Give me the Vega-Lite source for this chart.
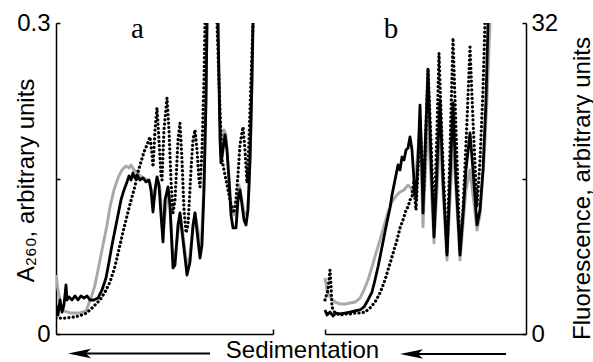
{
"$schema":"https://vega.github.io/schema/vega-lite/v6.json",
"autosize":"none",
"width":470,"height":311,
"padding":{"left":56,"top":23,"right":67,"bottom":28},
"config":{"view":{"stroke":null},"font":"Liberation Sans"},
"datasets":{
"a":[
{"s":"g","x":0,"y":0.0569},{"s":"g","x":2,"y":0.0425},{"s":"g","x":5,"y":0.028},{"s":"g","x":8,"y":0.0222},{"s":"g","x":14,"y":0.0203},{"s":"g","x":24,"y":0.0203},{"s":"g","x":30,"y":0.0222},{"s":"g","x":33,"y":0.0299},{"s":"g","x":36,"y":0.0376},{"s":"g","x":39,"y":0.0473},{"s":"g","x":43,"y":0.0666},{"s":"g","x":47,"y":0.0859},{"s":"g","x":51,"y":0.1052},{"s":"g","x":54,"y":0.1226},{"s":"g","x":58,"y":0.139},{"s":"g","x":62,"y":0.1505},{"s":"g","x":66,"y":0.1583},{"s":"g","x":70,"y":0.1621},{"s":"g","x":73,"y":0.1602},{"s":"g","x":75,"y":0.1631},{"s":"g","x":78,"y":0.1583},{"s":"g","x":81,"y":0.1563},{"s":"g","x":84,"y":0.1525},{"s":"g","x":88,"y":0.1505},{"s":"g","x":91,"y":0.1486},{"s":"g","x":94,"y":0.1457},{"s":"g","x":96,"y":0.1341},{"s":"g","x":97,"y":0.1245},{"s":"g","x":99,"y":0.1341},{"s":"g","x":101,"y":0.1486},{"s":"g","x":104,"y":0.139},{"s":"g","x":107,"y":0.0936},{"s":"g","x":109,"y":0.1148},{"s":"g","x":112,"y":0.139},{"s":"g","x":114,"y":0.1197},{"s":"g","x":117,"y":0.0714},{"s":"g","x":120,"y":0.0811},{"s":"g","x":124,"y":0.1148},{"s":"g","x":127,"y":0.0955},{"s":"g","x":131,"y":0.0637},{"s":"g","x":134,"y":0.0762},{"s":"g","x":139,"y":0.1168},{"s":"g","x":142,"y":0.1004},{"s":"g","x":144,"y":0.0811},{"s":"g","x":146,"y":0.1004},{"s":"g","x":148,"y":0.1486},{"s":"g","x":150,"y":0.2258},{"s":"g","x":151,"y":0.3},{"s":"g","x":156,"y":0.37},{"s":"g","x":162,"y":0.3},{"s":"g","x":164,"y":0.2065},{"s":"g","x":166,"y":0.1727},{"s":"g","x":168,"y":0.1969},{"s":"g","x":170,"y":0.192},{"s":"g","x":172,"y":0.1631},{"s":"g","x":175,"y":0.1245},{"s":"g","x":178,"y":0.1148},{"s":"g","x":181,"y":0.1177},{"s":"g","x":183,"y":0.1438},{"s":"g","x":185,"y":0.1341},{"s":"g","x":188,"y":0.1177},{"s":"g","x":191,"y":0.1148},{"s":"g","x":193,"y":0.139},{"s":"g","x":195,"y":0.1969},{"s":"g","x":197,"y":0.3},{"s":"g","x":199,"y":0.37},
{"s":"k","x":0,"y":0.028},{"s":"k","x":2,"y":0.0183},{"s":"k","x":4,"y":0.0328},{"s":"k","x":6,"y":0.0212},{"s":"k","x":8,"y":0.028},{"s":"k","x":10,"y":0.0473},{"s":"k","x":11,"y":0.0328},{"s":"k","x":13,"y":0.0357},{"s":"k","x":16,"y":0.0328},{"s":"k","x":19,"y":0.0367},{"s":"k","x":22,"y":0.0328},{"s":"k","x":25,"y":0.0367},{"s":"k","x":28,"y":0.0347},{"s":"k","x":31,"y":0.0367},{"s":"k","x":34,"y":0.0328},{"s":"k","x":38,"y":0.0328},{"s":"k","x":42,"y":0.0347},{"s":"k","x":46,"y":0.0425},{"s":"k","x":50,"y":0.054},{"s":"k","x":53,"y":0.0695},{"s":"k","x":56,"y":0.0859},{"s":"k","x":59,"y":0.1004},{"s":"k","x":62,"y":0.1148},{"s":"k","x":65,"y":0.1293},{"s":"k","x":68,"y":0.139},{"s":"k","x":71,"y":0.1467},{"s":"k","x":73,"y":0.1525},{"s":"k","x":75,"y":0.1486},{"s":"k","x":77,"y":0.1554},{"s":"k","x":79,"y":0.1505},{"s":"k","x":81,"y":0.1534},{"s":"k","x":84,"y":0.1486},{"s":"k","x":87,"y":0.1505},{"s":"k","x":90,"y":0.1467},{"s":"k","x":93,"y":0.1486},{"s":"k","x":95,"y":0.139},{"s":"k","x":97,"y":0.1177},{"s":"k","x":99,"y":0.139},{"s":"k","x":101,"y":0.1515},{"s":"k","x":103,"y":0.1438},{"s":"k","x":105,"y":0.1148},{"s":"k","x":107,"y":0.0888},{"s":"k","x":109,"y":0.1293},{"s":"k","x":112,"y":0.1419},{"s":"k","x":114,"y":0.1245},{"s":"k","x":117,"y":0.0637},{"s":"k","x":119,"y":0.0666},{"s":"k","x":122,"y":0.1052},{"s":"k","x":124,"y":0.1168},{"s":"k","x":127,"y":0.0907},{"s":"k","x":131,"y":0.0569},{"s":"k","x":134,"y":0.0695},{"s":"k","x":137,"y":0.1052},{"s":"k","x":139,"y":0.1168},{"s":"k","x":142,"y":0.0907},{"s":"k","x":144,"y":0.0733},{"s":"k","x":146,"y":0.0859},{"s":"k","x":148,"y":0.139},{"s":"k","x":150,"y":0.2258},{"s":"k","x":151,"y":0.3},{"s":"k","x":156,"y":0.37},{"s":"k","x":162,"y":0.3},{"s":"k","x":164,"y":0.1872},{"s":"k","x":165,"y":0.165},{"s":"k","x":167,"y":0.1776},{"s":"k","x":169,"y":0.192},{"s":"k","x":171,"y":0.1776},{"s":"k","x":173,"y":0.1486},{"s":"k","x":175,"y":0.1148},{"s":"k","x":177,"y":0.1023},{"s":"k","x":180,"y":0.1023},{"s":"k","x":182,"y":0.1293},{"s":"k","x":184,"y":0.139},{"s":"k","x":186,"y":0.1245},{"s":"k","x":188,"y":0.11},{"s":"k","x":190,"y":0.1052},{"s":"k","x":192,"y":0.1197},{"s":"k","x":194,"y":0.1679},{"s":"k","x":196,"y":0.2451},{"s":"k","x":197,"y":0.3},{"s":"k","x":199,"y":0.37},
{"s":"d","x":0,"y":0.0154},{"s":"d","x":9,"y":0.0154},{"s":"d","x":19,"y":0.0164},{"s":"d","x":29,"y":0.0193},{"s":"d","x":34,"y":0.0232},{"s":"d","x":39,"y":0.028},{"s":"d","x":44,"y":0.0328},{"s":"d","x":49,"y":0.0405},{"s":"d","x":54,"y":0.0502},{"s":"d","x":58,"y":0.0618},{"s":"d","x":61,"y":0.0733},{"s":"d","x":64,"y":0.0859},{"s":"d","x":67,"y":0.0984},{"s":"d","x":70,"y":0.11},{"s":"d","x":73,"y":0.1216},{"s":"d","x":76,"y":0.1322},{"s":"d","x":79,"y":0.1428},{"s":"d","x":82,"y":0.1563},{"s":"d","x":85,"y":0.166},{"s":"d","x":88,"y":0.1756},{"s":"d","x":91,"y":0.1824},{"s":"d","x":94,"y":0.1901},{"s":"d","x":96,"y":0.1727},{"s":"d","x":97,"y":0.1612},{"s":"d","x":99,"y":0.1969},{"s":"d","x":101,"y":0.2181},{"s":"d","x":103,"y":0.1872},{"s":"d","x":105,"y":0.1534},{"s":"d","x":106,"y":0.1486},{"s":"d","x":108,"y":0.1969},{"s":"d","x":111,"y":0.2277},{"s":"d","x":113,"y":0.1969},{"s":"d","x":115,"y":0.1486},{"s":"d","x":117,"y":0.1168},{"s":"d","x":119,"y":0.1293},{"s":"d","x":122,"y":0.1872},{"s":"d","x":124,"y":0.2036},{"s":"d","x":126,"y":0.1679},{"s":"d","x":128,"y":0.1197},{"s":"d","x":130,"y":0.0975},{"s":"d","x":132,"y":0.1052},{"s":"d","x":135,"y":0.1583},{"s":"d","x":137,"y":0.1872},{"s":"d","x":139,"y":0.1969},{"s":"d","x":141,"y":0.1776},{"s":"d","x":143,"y":0.1486},{"s":"d","x":144,"y":0.1419},{"s":"d","x":146,"y":0.1776},{"s":"d","x":148,"y":0.2451},{"s":"d","x":149,"y":0.3},{"s":"d","x":155,"y":0.37},{"s":"d","x":161,"y":0.3},{"s":"d","x":164,"y":0.2162},{"s":"d","x":166,"y":0.1679},{"s":"d","x":169,"y":0.1534},{"s":"d","x":172,"y":0.139},{"s":"d","x":175,"y":0.1245},{"s":"d","x":178,"y":0.1168},{"s":"d","x":180,"y":0.1293},{"s":"d","x":182,"y":0.1534},{"s":"d","x":184,"y":0.1824},{"s":"d","x":187,"y":0.1998},{"s":"d","x":189,"y":0.1776},{"s":"d","x":191,"y":0.1457},{"s":"d","x":193,"y":0.1872},{"s":"d","x":195,"y":0.2451},{"s":"d","x":197,"y":0.3},{"s":"d","x":199,"y":0.37}
],
"b":[
{"s":"g","x":0,"y":5.76},{"s":"g","x":2,"y":4.53},{"s":"g","x":5,"y":3.81},{"s":"g","x":10,"y":3.29},{"s":"g","x":15,"y":3.09},{"s":"g","x":20,"y":3.09},{"s":"g","x":25,"y":3.19},{"s":"g","x":30,"y":3.29},{"s":"g","x":35,"y":3.7},{"s":"g","x":39,"y":4.53},{"s":"g","x":43,"y":5.56},{"s":"g","x":47,"y":6.89},{"s":"g","x":51,"y":8.33},{"s":"g","x":55,"y":9.67},{"s":"g","x":59,"y":11.11},{"s":"g","x":63,"y":12.55},{"s":"g","x":67,"y":13.58},{"s":"g","x":71,"y":14.2},{"s":"g","x":75,"y":14.61},{"s":"g","x":79,"y":14.82},{"s":"g","x":83,"y":15.33},{"s":"g","x":86,"y":15.02},{"s":"g","x":88,"y":14.3},{"s":"g","x":91,"y":16.36},{"s":"g","x":93,"y":18.93},{"s":"g","x":95,"y":20.48},{"s":"g","x":97,"y":14.82},{"s":"g","x":98,"y":11.01},{"s":"g","x":100,"y":15.85},{"s":"g","x":103,"y":22.02},{"s":"g","x":106,"y":15.85},{"s":"g","x":109,"y":9.36},{"s":"g","x":112,"y":14.82},{"s":"g","x":115,"y":20.99},{"s":"g","x":118,"y":14.82},{"s":"g","x":122,"y":7.61},{"s":"g","x":125,"y":13.79},{"s":"g","x":128,"y":19.96},{"s":"g","x":131,"y":14.82},{"s":"g","x":135,"y":7.61},{"s":"g","x":138,"y":11.22},{"s":"g","x":141,"y":14.82},{"s":"g","x":145,"y":16.88},{"s":"g","x":148,"y":14.3},{"s":"g","x":152,"y":10.7},{"s":"g","x":155,"y":12.25},{"s":"g","x":159,"y":17.9},{"s":"g","x":162,"y":24.08},{"s":"g","x":165,"y":32},{"s":"g","x":167,"y":40},
{"s":"k","x":0,"y":2.47},{"s":"k","x":2,"y":1.96},{"s":"k","x":5,"y":2.26},{"s":"k","x":8,"y":1.85},{"s":"k","x":11,"y":2.16},{"s":"k","x":15,"y":2.06},{"s":"k","x":20,"y":2.16},{"s":"k","x":25,"y":2.26},{"s":"k","x":30,"y":2.37},{"s":"k","x":35,"y":2.47},{"s":"k","x":39,"y":2.78},{"s":"k","x":43,"y":3.5},{"s":"k","x":47,"y":4.32},{"s":"k","x":50,"y":5.56},{"s":"k","x":53,"y":6.89},{"s":"k","x":56,"y":8.44},{"s":"k","x":59,"y":9.98},{"s":"k","x":62,"y":11.52},{"s":"k","x":65,"y":12.97},{"s":"k","x":67,"y":14.3},{"s":"k","x":69,"y":15.33},{"s":"k","x":71,"y":16.36},{"s":"k","x":73,"y":17.39},{"s":"k","x":75,"y":16.88},{"s":"k","x":77,"y":18.21},{"s":"k","x":79,"y":17.9},{"s":"k","x":81,"y":18.93},{"s":"k","x":83,"y":19.14},{"s":"k","x":85,"y":20.27},{"s":"k","x":87,"y":18.93},{"s":"k","x":89,"y":15.85},{"s":"k","x":91,"y":13.79},{"s":"k","x":93,"y":17.9},{"s":"k","x":95,"y":23.56},{"s":"k","x":97,"y":16.88},{"s":"k","x":98,"y":12.45},{"s":"k","x":100,"y":18.93},{"s":"k","x":103,"y":27.17},{"s":"k","x":106,"y":17.9},{"s":"k","x":109,"y":9.98},{"s":"k","x":112,"y":16.88},{"s":"k","x":115,"y":24.08},{"s":"k","x":118,"y":15.85},{"s":"k","x":122,"y":8.13},{"s":"k","x":125,"y":15.85},{"s":"k","x":128,"y":23.77},{"s":"k","x":131,"y":15.85},{"s":"k","x":135,"y":8.13},{"s":"k","x":138,"y":12.25},{"s":"k","x":141,"y":16.88},{"s":"k","x":145,"y":20.68},{"s":"k","x":148,"y":16.88},{"s":"k","x":152,"y":11.22},{"s":"k","x":155,"y":12.76},{"s":"k","x":158,"y":16.88},{"s":"k","x":161,"y":24.08},{"s":"k","x":163,"y":32},{"s":"k","x":165,"y":40},
{"s":"d","x":0,"y":3.5},{"s":"d","x":3,"y":4.53},{"s":"d","x":5,"y":6.59},{"s":"d","x":6,"y":5.04},{"s":"d","x":7,"y":2.78},{"s":"d","x":10,"y":2.16},{"s":"d","x":15,"y":1.96},{"s":"d","x":20,"y":2.06},{"s":"d","x":25,"y":2.06},{"s":"d","x":30,"y":2.16},{"s":"d","x":35,"y":2.16},{"s":"d","x":40,"y":2.26},{"s":"d","x":45,"y":2.68},{"s":"d","x":50,"y":3.29},{"s":"d","x":54,"y":4.01},{"s":"d","x":57,"y":4.73},{"s":"d","x":60,"y":5.56},{"s":"d","x":63,"y":6.59},{"s":"d","x":66,"y":7.61},{"s":"d","x":69,"y":8.64},{"s":"d","x":72,"y":9.67},{"s":"d","x":75,"y":10.91},{"s":"d","x":78,"y":11.73},{"s":"d","x":81,"y":12.76},{"s":"d","x":83,"y":13.07},{"s":"d","x":85,"y":13.79},{"s":"d","x":87,"y":14.1},{"s":"d","x":89,"y":15.85},{"s":"d","x":90,"y":13.79},{"s":"d","x":91,"y":12.76},{"s":"d","x":93,"y":16.88},{"s":"d","x":95,"y":22.02},{"s":"d","x":97,"y":17.9},{"s":"d","x":99,"y":14.82},{"s":"d","x":101,"y":20.99},{"s":"d","x":103,"y":27.37},{"s":"d","x":106,"y":19.96},{"s":"d","x":109,"y":11.01},{"s":"d","x":112,"y":20.99},{"s":"d","x":114,"y":28.91},{"s":"d","x":117,"y":19.96},{"s":"d","x":122,"y":8.33},{"s":"d","x":125,"y":18.93},{"s":"d","x":128,"y":30.46},{"s":"d","x":131,"y":20.99},{"s":"d","x":135,"y":8.64},{"s":"d","x":138,"y":12.76},{"s":"d","x":142,"y":22.02},{"s":"d","x":145,"y":29.53},{"s":"d","x":148,"y":22.02},{"s":"d","x":152,"y":13.07},{"s":"d","x":155,"y":17.9},{"s":"d","x":158,"y":25.11},{"s":"d","x":160,"y":32},{"s":"d","x":162,"y":40}
],
"annA":[
{"k":"label","x":81.5,"y":0.2856,"t":"a"},
{"k":"sed","x":246.5,"y":-0.0236,"t":"Sedimentation"},
{"k":"head","x":23.5,"y":-0.0188},
{"k":"shaft","x":22,"x2":154,"y":-0.0188}
],
"annB":[
{"k":"label","x":66,"y":30.46,"t":"b"},
{"k":"head","x":86.5,"y":-2.06},
{"k":"shaft","x":85,"x2":181,"y":-2.06}
]
},
"layer":[
{
"encoding":{
"x":{"field":"x","type":"quantitative","scale":{"domain":[0,217],"range":[0,217],"nice":false,"zero":false},
"axis":{"orient":"bottom","values":[217],"labels":false,"tickSize":-5,"title":null,"grid":false,"domainColor":"#000","tickColor":"#000","domainWidth":1.5,"tickWidth":1.5}},
"y":{"field":"y","type":"quantitative","scale":{"domain":[0,0.3],"nice":false,"zero":false},
"axis":{"orient":"left","values":[0,0.15,0.3],"format":".1~f","labelExpr":"datum.value==0.15?'':datum.label","tickSize":-4,"labelPadding":10,"labelFontSize":24,"labelFont":"Liberation Sans","labelColor":"#000","grid":false,"domainColor":"#000","tickColor":"#000","domainWidth":1.5,"tickWidth":1.5,
"title":"A₂₆₀, arbitrary units","titleFont":"Liberation Sans","titleFontSize":24,"titleFontWeight":"normal","titleColor":"#000","titleAngle":-90,"titleX":-23,"titleY":157,"titleBaseline":"alphabetic","titleAlign":"center"}}
},
"layer":[
{"data":{"name":"a"},"transform":[{"filter":"datum.s==='g'"}],"mark":{"type":"line","clip":true,"color":"#a8a8a8","strokeWidth":2.9,"strokeJoin":"round"}},
{"data":{"name":"a"},"transform":[{"filter":"datum.s==='k'"}],"mark":{"type":"line","clip":true,"color":"#000","strokeWidth":2.8,"strokeJoin":"round"}},
{"data":{"name":"a"},"transform":[{"filter":"datum.s==='d'"}],"mark":{"type":"line","clip":true,"color":"#000","strokeWidth":3.2,"strokeDash":[0.1,4.2],"strokeCap":"round","strokeJoin":"round"}},
{"data":{"name":"annA"},"transform":[{"filter":"datum.k==='label'"}],"mark":{"type":"text","font":"Liberation Serif","fontSize":29,"align":"center","baseline":"alphabetic","color":"#000"},"encoding":{"text":{"field":"t"}}},
{"data":{"name":"annA"},"transform":[{"filter":"datum.k==='sed'"}],"mark":{"type":"text","font":"Liberation Sans","fontSize":24,"align":"center","baseline":"alphabetic","color":"#000"},"encoding":{"text":{"field":"t"}}},
{"data":{"name":"annA"},"transform":[{"filter":"datum.k==='shaft'"}],"mark":{"type":"rule","color":"#000","strokeWidth":1.8},"encoding":{"x2":{"field":"x2"}}},
{"data":{"name":"annA"},"transform":[{"filter":"datum.k==='head'"}],"mark":{"type":"point","filled":true,"color":"#000","opacity":1,"size":529,"shape":"M-1,0L1,-0.42L0.55,0L1,0.42Z"}}
]
},
{
"encoding":{
"x":{"field":"x","type":"quantitative","scale":{"domain":[0,201],"range":[269,470],"nice":false,"zero":false},
"axis":{"orient":"bottom","values":[0],"labels":false,"tickSize":-5,"title":null,"grid":false,"domainColor":"#000","tickColor":"#000","domainWidth":1.5,"tickWidth":1.5}},
"y":{"field":"y","type":"quantitative","scale":{"domain":[0,32],"nice":false,"zero":false},
"axis":{"orient":"right","values":[0,16,32],"format":"d","labelExpr":"datum.value==16?'':datum.label","tickSize":-4,"labelPadding":9,"labelFontSize":24,"labelFont":"Liberation Sans","labelColor":"#000","grid":false,"domainColor":"#000","tickColor":"#000","domainWidth":1.5,"tickWidth":1.5,
"title":"Fluorescence, arbitrary units","titleFont":"Liberation Sans","titleFontSize":24,"titleFontWeight":"normal","titleColor":"#000","titleAngle":-90,"titleX":63,"titleY":165,"titleBaseline":"alphabetic","titleAlign":"center"}}
},
"layer":[
{"data":{"name":"b"},"transform":[{"filter":"datum.s==='g'"}],"mark":{"type":"line","clip":true,"color":"#a8a8a8","strokeWidth":2.9,"strokeJoin":"round"}},
{"data":{"name":"b"},"transform":[{"filter":"datum.s==='k'"}],"mark":{"type":"line","clip":true,"color":"#000","strokeWidth":2.8,"strokeJoin":"round"}},
{"data":{"name":"b"},"transform":[{"filter":"datum.s==='d'"}],"mark":{"type":"line","clip":true,"color":"#000","strokeWidth":3.2,"strokeDash":[0.1,4.2],"strokeCap":"round","strokeJoin":"round"}},
{"data":{"name":"annB"},"transform":[{"filter":"datum.k==='label'"}],"mark":{"type":"text","font":"Liberation Serif","fontSize":29,"align":"center","baseline":"alphabetic","color":"#000"},"encoding":{"text":{"field":"t"}}},
{"data":{"name":"annB"},"transform":[{"filter":"datum.k==='shaft'"}],"mark":{"type":"rule","color":"#000","strokeWidth":1.8},"encoding":{"x2":{"field":"x2"}}},
{"data":{"name":"annB"},"transform":[{"filter":"datum.k==='head'"}],"mark":{"type":"point","filled":true,"color":"#000","opacity":1,"size":529,"shape":"M-1,0L1,-0.42L0.55,0L1,0.42Z"}}
]
}
],
"resolve":{"scale":{"x":"independent","y":"independent"},"axis":{"x":"independent","y":"independent"}}
}
